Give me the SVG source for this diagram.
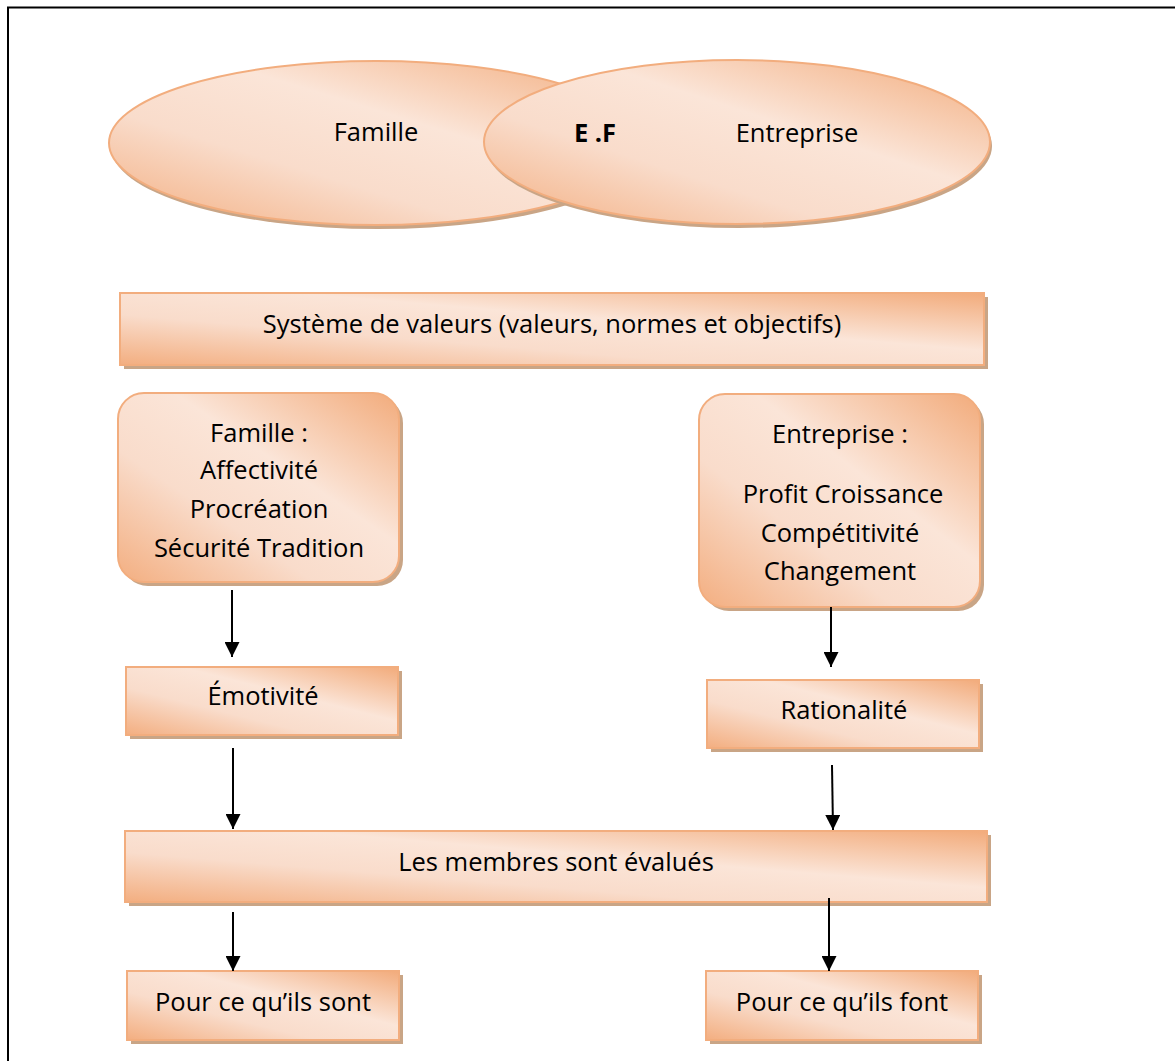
<svg xmlns="http://www.w3.org/2000/svg" width="1175" height="1061" viewBox="0 0 1175 1061">
<style>
.sh{fill:#c9a586}
.bx{fill:url(#g);stroke:#f2ad7e;stroke-width:2}
.t{font-family:"Open Sans","Liberation Sans",sans-serif;font-size:25.5px;fill:#000;text-anchor:middle}
.c{stroke:#000;stroke-width:2;fill:none;marker-end:url(#ah)}
</style>
<defs>
<linearGradient id="g" x1="0" y1="1" x2="1" y2="0">
<stop offset="0" stop-color="#f3ae80"/>
<stop offset="0.35" stop-color="#f9dccb"/>
<stop offset="0.6" stop-color="#fbe5d8"/>
<stop offset="1" stop-color="#f2ab7b"/>
</linearGradient>
<marker id="ah" viewBox="0 0 10 10" refX="10" refY="5" markerWidth="15" markerHeight="15" markerUnits="userSpaceOnUse" orient="auto">
<path d="M0,0 L10,5 L0,10 z" fill="#000"/>
</marker>
</defs>
<rect width="1175" height="1061" fill="#fff"/>
<path d="M8,1061 V7.5 H1175" fill="none" stroke="#000" stroke-width="2"/>

<g id="famille-ellipse">
<ellipse class="sh" cx="378" cy="147" rx="267" ry="82"/>
<ellipse class="bx" cx="376" cy="143" rx="267" ry="82"/>
<text class="t" x="376" y="141">Famille</text>
</g>
<g id="entreprise-ellipse">
<ellipse class="sh" cx="739" cy="146" rx="253" ry="82"/>
<ellipse class="bx" cx="737" cy="142" rx="253" ry="82"/>
<text class="t" x="595" y="142" font-weight="bold">E .F</text>
<text class="t" x="797" y="142">Entreprise</text>
</g>
<g id="systeme">
<rect class="sh" x="124" y="297" width="864" height="72"/>
<rect class="bx" x="120" y="293" width="864" height="72"/>
<text class="t" x="552" y="333">Système de valeurs (valeurs, normes et objectifs)</text>
</g>
<g id="famille-box">
<rect class="sh" x="122" y="397" width="281" height="189" rx="26"/>
<rect class="bx" x="118" y="393" width="281" height="189" rx="26"/>
<text class="t" x="259" y="442">Famille :</text>
<text class="t" x="259" y="479">Affectivité</text>
<text class="t" x="259" y="518">Procréation</text>
<text class="t" x="259" y="557">Sécurité Tradition</text>
</g>
<g id="entreprise-box">
<rect class="sh" x="703" y="398" width="281" height="213" rx="26"/>
<rect class="bx" x="699" y="394" width="281" height="213" rx="26"/>
<text class="t" x="840" y="443">Entreprise :</text>
<text class="t" x="843" y="503">Profit Croissance</text>
<text class="t" x="840" y="542">Compétitivité</text>
<text class="t" x="840" y="580">Changement</text>
</g>
<g id="emotivite">
<rect class="sh" x="130" y="671" width="272" height="68"/>
<rect class="bx" x="126" y="667" width="272" height="68"/>
<text class="t" x="263" y="705">Émotivité</text>
</g>
<g id="rationalite">
<rect class="sh" x="711" y="684" width="272" height="68"/>
<rect class="bx" x="707" y="680" width="272" height="68"/>
<text class="t" x="844" y="719">Rationalité</text>
</g>
<g id="membres">
<rect class="sh" x="129" y="835" width="862" height="71"/>
<rect class="bx" x="125" y="831" width="862" height="71"/>
<text class="t" x="556" y="871">Les membres sont évalués</text>
</g>
<g id="sont">
<rect class="sh" x="131" y="975" width="272" height="69"/>
<rect class="bx" x="127" y="971" width="272" height="69"/>
<text class="t" x="263" y="1011">Pour ce qu’ils sont</text>
</g>
<g id="font">
<rect class="sh" x="710" y="975" width="272" height="69"/>
<rect class="bx" x="706" y="971" width="272" height="69"/>
<text class="t" x="842" y="1011">Pour ce qu’ils font</text>
</g>

<g id="connectors">
<path class="c" d="M232,590 V657"/>
<path class="c" d="M233,748 V829"/>
<path class="c" d="M831,607 V667"/>
<path class="c" d="M832,765 L833,830"/>
<path class="c" d="M233,912 V971"/>
<path class="c" d="M829,898 V971"/>
</g>
</svg>
